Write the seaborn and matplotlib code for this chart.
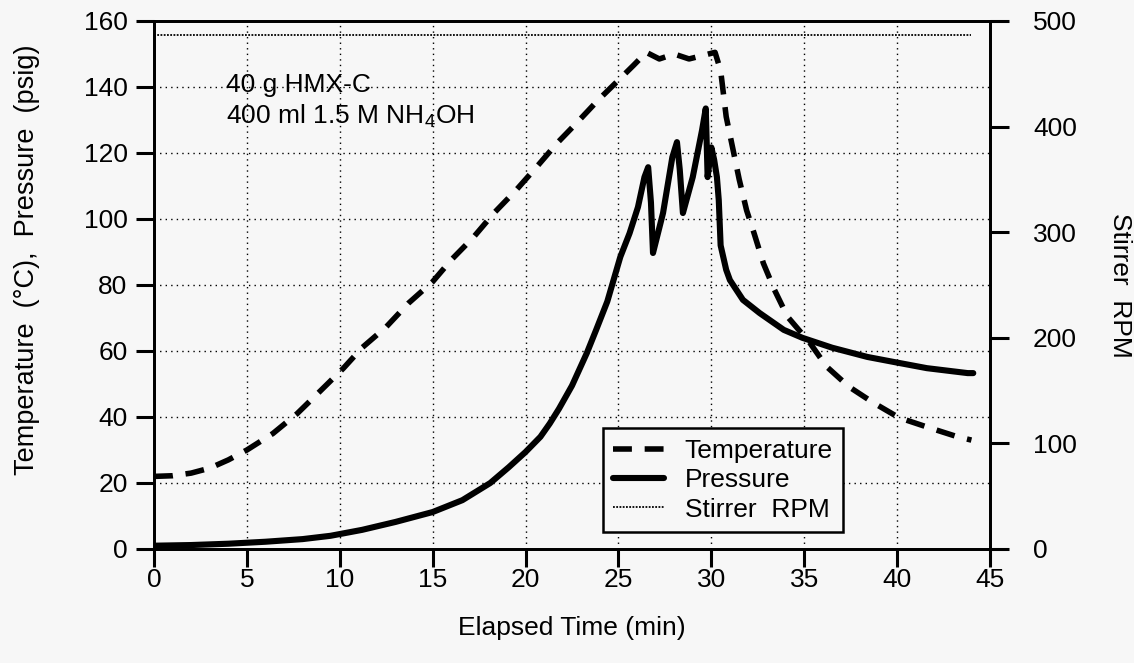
import matplotlib
matplotlib.use("Agg")
import matplotlib.pyplot as plt
import seaborn as sns

# ---------------- data ----------------
temp_time = [0.0, 1.0, 2.0, 3.0, 4.0, 5.0, 6.4, 7.7, 8.9, 10.2, 11.2, 12.5, 13.7,
             15.0, 16.0, 17.2, 18.3, 19.5, 20.6, 21.7, 22.8, 23.9, 24.9, 25.8,
             26.5, 27.2, 28.0, 28.8, 29.5, 30.2, 30.5, 30.8, 31.5, 31.9, 32.3,
             32.8, 33.4, 34.1, 35.3, 36.2, 37.4, 38.7, 40.1, 41.7, 43.2, 44.0]
temp_vals = [22.0, 22.2, 23.0, 24.5, 27.0, 30.0, 35.0, 41.0, 47.6, 54.8, 61.0, 67.3,
             74.5, 81.0, 87.6, 94.5, 101.8, 108.8, 115.8, 123.0, 129.4, 136.0, 141.5,
             146.5, 150.5, 148.5, 150.0, 148.5, 149.5, 150.5, 145.0, 131.0, 112.0,
             102.6, 95.7, 86.6, 78.5, 70.4, 62.5, 55.3, 49.2, 44.4, 39.8, 36.8, 34.1, 33.0]

pres_time = [0.0, 2.0, 4.0, 6.0, 8.0, 9.5, 11.2, 13.0, 15.0, 16.6, 18.1, 19.1, 20.0,
             20.8, 21.3, 21.8, 22.5, 23.3, 23.8, 24.4, 25.1, 25.6, 26.05, 26.4, 26.6,
             26.75, 26.86, 27.4, 27.9, 28.15, 28.3, 28.47, 29.0, 29.5, 29.7, 29.8,
             30.0, 30.15, 30.3, 30.4, 30.5, 30.8, 31.0, 31.7, 32.6, 33.9, 34.9, 36.5,
             38.4, 39.8, 41.6, 43.8, 44.1]
pres_vals = [1.0, 1.2, 1.6, 2.2, 3.0, 4.0, 5.8, 8.2, 11.2, 14.8, 20.0, 24.8, 29.4,
             34.0, 38.0, 42.5, 49.5, 59.4, 66.4, 75.0, 88.5, 95.7, 103.6, 112.7, 115.7,
             105.0, 89.7, 101.8, 118.7, 123.3, 115.0, 101.8, 112.7, 126.9, 133.5, 112.7,
             121.7, 118.0, 112.7, 105.7, 92.0, 84.6, 81.5, 75.5, 71.5, 66.4, 64.0, 61.0,
             58.2, 56.7, 54.8, 53.3, 53.3]

rpm_time = [0.0, 5.0, 10.0, 15.0, 20.0, 25.0, 30.0, 35.0, 40.0, 44.0]
rpm_vals = [487, 487, 487, 487, 487, 487, 487, 487, 487, 487]

x_ticks = [0, 5, 10, 15, 20, 25, 30, 35, 40, 45]
y_ticks = [0, 20, 40, 60, 80, 100, 120, 140, 160]
y2_ticks = [0, 100, 200, 300, 400, 500]

# ---------------- style ----------------
sns.set_theme(style="ticks")
plt.rcParams['font.family'] = ['Liberation Sans', 'DejaVu Sans']
plt.rcParams['mathtext.default'] = 'regular'
plt.rcParams['text.color'] = 'black'
plt.rcParams['axes.labelcolor'] = 'black'

bg = '#f7f7f7'
FS = 19
dash = (0, (3.4, 2.3))

fig = plt.figure(figsize=(11.34, 6.63), dpi=100, facecolor=bg)
ax = fig.add_axes([154 / 1134, 1 - 549 / 663, 836 / 1134, 528 / 663])
ax.set_facecolor(bg)
ax2 = ax.twinx()

sns.lineplot(x=temp_time, y=temp_vals, ax=ax, color='black', linewidth=4.0,
             linestyle=dash, estimator=None, sort=False, label='Temperature',
             legend=False)
sns.lineplot(x=pres_time, y=pres_vals, ax=ax, color='black', linewidth=4.4,
             estimator=None, sort=False, label='Pressure', legend=False)
sns.lineplot(x=rpm_time, y=rpm_vals, ax=ax2, color='black', linewidth=1.3,
             linestyle=(0, (1, 0.8)), estimator=None, sort=False,
             label='Stirrer  RPM', legend=False)

ax.set_xlim(0, 45)
ax.set_ylim(0, 160)
ax2.set_ylim(0, 500)
ax.set_xticks(x_ticks)
ax.set_yticks(y_ticks)
ax2.set_yticks(y2_ticks)

ax.set_axisbelow(True)
ax.grid(True, color='black', linestyle=(0, (1, 3)), linewidth=1.0)
ax2.grid(False)

for a in (ax, ax2):
    for s in a.spines.values():
        s.set_visible(True)
        s.set_linewidth(2)
        s.set_color('black')
ax.tick_params(axis='y', direction='out', length=13, width=2.2,
               labelsize=FS, colors='black', pad=6)
ax.tick_params(axis='x', direction='out', length=13, width=2.2,
               labelsize=FS, colors='black', pad=1)
ax2.tick_params(axis='y', direction='out', length=14, width=2.2,
                labelsize=FS, colors='black', pad=17)

ax.set_xlabel('Elapsed Time (min)', fontsize=FS)
ax.set_ylabel('Temperature  (°C),  Pressure  (psig)', fontsize=19.5)
ax2.set_ylabel('Stirrer  RPM', fontsize=FS, rotation=270)
ax.yaxis.set_label_coords(-0.152, 0.547)
ax.xaxis.set_label_coords(0.5, -0.15)
ax2.yaxis.set_label_coords(1.1555, 0.5)
ax.xaxis.label.set_va('center')
ax.yaxis.label.set_va('center')
ax2.yaxis.label.set_va('center')

ax.text(3.9, 140.6, '40 g HMX-C', fontsize=FS, va='center', ha='left')
ax.text(3.9, 131.0, '400 ml 1.5 M NH$_4$OH', fontsize=FS, va='center', ha='left')

h1, l1 = ax.get_legend_handles_labels()
h2, l2 = ax2.get_legend_handles_labels()
leg = ax2.legend(h1 + h2, l1 + l2, loc='lower left', bbox_to_anchor=(0.537, 0.032),
                 frameon=True, fancybox=False, edgecolor='black', facecolor=bg,
                 framealpha=1, fontsize=FS, handlelength=1.9, borderpad=0.4,
                 labelspacing=0.2, handletextpad=0.8, borderaxespad=0)
leg.get_frame().set_linewidth(1.8)

fig.savefig('out.png', dpi=100, facecolor=bg)
